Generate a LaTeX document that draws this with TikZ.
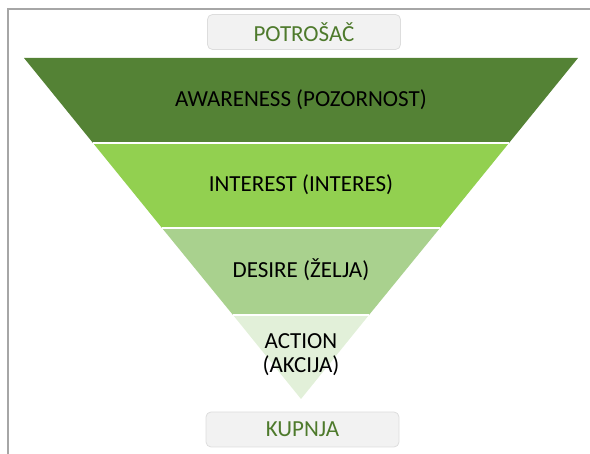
\documentclass[tikz,border=0pt]{standalone}
\usepackage{fontspec}
\setmainfont{Carlito}
\definecolor{bandA}{HTML}{548235}
\definecolor{bandB}{HTML}{92D050}
\definecolor{bandC}{HTML}{A9D18E}
\definecolor{bandD}{HTML}{E2F0D9}
\definecolor{labgreen}{HTML}{4E7A2C}
\definecolor{boxfill}{HTML}{F2F2F2}
\definecolor{boxline}{HTML}{DDDDDD}
\definecolor{framegray}{HTML}{A6A6A6}
\begin{document}
\begin{tikzpicture}[x=1pt,y=-1pt,font=\fontsize{23}{24}\selectfont,
  band/.style={draw=white,line width=1.2pt},
  endbox/.style={draw=boxline,fill=boxfill,rounded corners=5pt,line width=0.8pt,
    minimum width=193pt,minimum height=35pt,text=labgreen},
  bandtext/.style={align=center,text=black}]

\useasboundingbox (0,0) rectangle (590,454);

% frame
\draw[framegray,line width=2pt] (7.5,454) -- (7.5,9.5) -- (590,9.5);

% funnel
\coordinate (t1) at (24,58);  \coordinate (t2) at (578,58);
\coordinate (u1) at (93,143); \coordinate (u2) at (509,143);
\coordinate (v1) at (162,228); \coordinate (v2) at (440,228);
\coordinate (w1) at (233,315); \coordinate (w2) at (369,315);
\coordinate (apex) at (301,399);

\fill[bandA] (t1) -- (t2) -- (u2) -- (u1) -- cycle;
\fill[bandB] (u1) -- (u2) -- (v2) -- (v1) -- cycle;
\fill[bandC] (v1) -- (v2) -- (w2) -- (w1) -- cycle;
\fill[bandD] (w1) -- (w2) -- (apex) -- cycle;
\draw[band] (u1) -- (u2);
\draw[band] (v1) -- (v2);
\draw[band] (w1) -- (w2);

\node[bandtext] (aware) at (301,100) {AWARENESS (POZORNOST)};
\node[bandtext] (interest) at (301,185) {INTEREST (INTERES)};
\node[bandtext] (desire) at (301,270) {DESIRE (ŽELJA)};
\node[bandtext] (action) at (301,355) {ACTION\\(AKCIJA)};

% ends
\node[endbox] (potrosac) at (304,32) {POTROŠAČ};
\node[endbox] (kupnja) at (302.5,429.5) {KUPNJA};

\end{tikzpicture}
\end{document}
